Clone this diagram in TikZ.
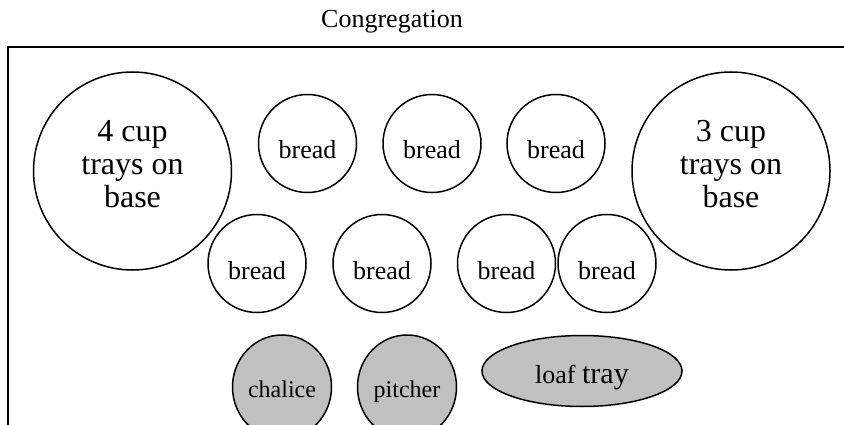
\documentclass[tikz,border=0pt]{standalone}
\usepackage{fontspec}
\setmainfont{Liberation Serif}
\usetikzlibrary{shapes.geometric}
\definecolor{silver}{RGB}{192,192,192}

\begin{document}
\begin{tikzpicture}[x=1pt, y=-1pt,
	cuptray/.style={draw, circle, line width=1.5pt, minimum size=198pt, inner sep=0pt},
	cuptext/.style={align=center, font=\fontsize{32}{33}\selectfont},
	breadplate/.style={draw, circle, line width=1.5pt, minimum size=98pt, inner sep=0pt, font=\fontsize{26}{26}\selectfont, text height=31pt, text depth=0pt},
	vessel/.style={draw, ellipse, line width=1.5pt, fill=silver, inner sep=0pt}]
				\useasboundingbox (0,0) rectangle (844,425);
				\draw[line width=2pt] (846,47) -- (7.5,47) -- (7.5,427);
				\node[anchor=base, font=\fontsize{26}{26}\selectfont] (cong) at (392,28) {Congregation};
				\node[cuptray] (cupsL) at (132.5,171) {};
				\node[cuptray] (cupsR) at (731,171) {};
				\node[cuptext] at (132.5,164) {4 cup\\trays on\\base};
				\node[cuptext] at (731,164) {3 cup\\trays on\\base};
				\node[breadplate] (b1) at (307.5,143.5) {bread};
				\node[breadplate] (b2) at (432,143.5) {bread};
				\node[breadplate] (b3) at (556,143.5) {bread};
				\node[breadplate] (b4) at (257,263.5) {bread};
				\node[breadplate] (b5) at (382,263.5) {bread};
				\node[breadplate] (b6) at (506.5,263.5) {bread};
				\node[breadplate] (b7) at (607,263.5) {bread};
				\node[vessel, minimum width=99pt, minimum height=104pt, font=\fontsize{24}{24}\selectfont, text height=20pt, text depth=0pt] (chalice) at (282,387) {chalice};
				\node[vessel, minimum width=99pt, minimum height=104pt, font=\fontsize{24}{24}\selectfont, text height=20pt, text depth=0pt] (pitcher) at (407,387) {pitcher};
				\node[vessel, minimum width=200pt, minimum height=71pt, font=\fontsize{26}{26}\selectfont, text height=24pt, text depth=0pt] (loaf) at (582,371) {loaf {\fontsize{30}{30}\selectfont tray}};
			\end{tikzpicture}
\end{document}
